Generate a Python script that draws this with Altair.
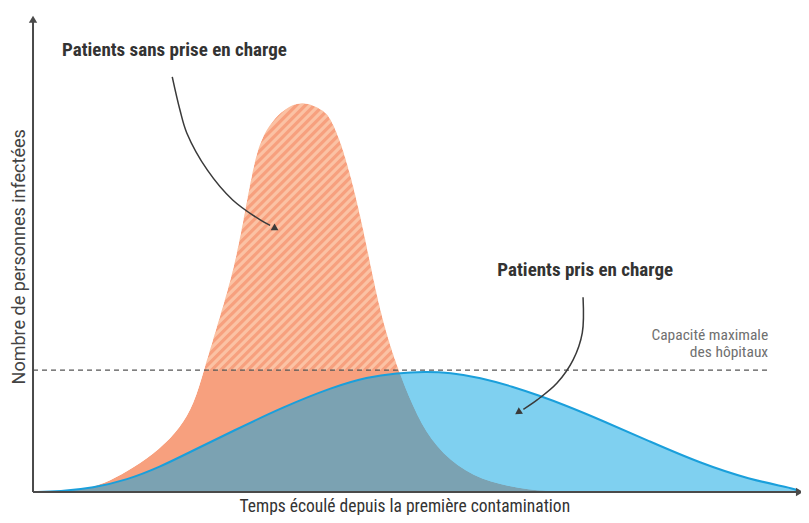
import altair as alt
import numpy as np
import pandas as pd

# ---------------- data (time 0-100, infected 0-100 = unmitigated peak) ----------------
orange_t = [0, 3.53, 7.06, 10.07, 13.07, 16.60, 19.22, 21.05, 22.35, 24.18, 26.14, 27.45,
            28.63, 29.67, 31.37, 32.68, 35.16, 37.91, 38.82, 40.13, 41.44, 43.01, 44.31,
            45.75, 47.58, 49.67, 51.90, 55.42, 59.74, 64.97, 68.89, 100]
orange_v = [0, 0.13, 0.77, 2.81, 6.12, 10.97, 16.33, 22.45, 31.12, 43.11, 55.87, 68.62,
            81.38, 89.80, 94.90, 97.45, 100, 97.45, 95.66, 89.80, 81.38, 68.62, 55.87,
            43.11, 31.89, 21.68, 13.27, 6.38, 2.30, 0.51, 0, 0]

blue_t = [0, 3.53, 7.84, 12.29, 16.60, 20.52, 26.14, 32.68, 39.22, 43.66, 47.58, 51.24,
          54.51, 58.43, 62.75, 66.27, 69.28, 74.12, 80.65, 87.19, 93.73, 98.95, 100]
blue_v = [0, 0.15, 1.02, 3.06, 6.38, 10.20, 15.56, 21.68, 26.79, 29.34, 30.36, 30.74,
          30.48, 29.21, 26.86, 24.52, 22.35, 18.47, 12.86, 7.37, 3.16, 1.12, 0.40]

CAPACITY = 31.1

# annotation arrows (paths in data units)
arrow1_t = [18.2, 19.2, 20.1, 22.8, 26.1, 29.7, 31.0]
arrow1_v = [105.9, 97.5, 91.6, 82.1, 74.5, 69.4, 68.0]
arrow2_t = [71.9, 71.8, 70.6, 68.5, 65.9, 64.1]
arrow2_v = [49.7, 40.6, 33.7, 27.8, 23.5, 21.1]
heads_t = [31.7, 63.4]
heads_v = [67.2, 20.3]
heads_angle = [30, 147]

labels_bold = ["Patients sans prise en charge", "Patients pris en charge"]
labels_bold_t = [3.8, 60.7]
labels_bold_v = [112.8, 56.6]
cap_lines = ["Capacité maximale", "des hôpitaux"]
cap_t = [96.1, 96.1]
cap_v = [40.1, 35.7]
x_title = "Temps écoulé depuis la première contamination"
y_title = "Nombre de personnes infectées"

# ---------------- layout ----------------
W, H = 793, 507
XDOM = [-3.27, 100.39]
YDOM = [-5.87, 123.47]
PX_T = W / (XDOM[1] - XDOM[0])
PX_V = H / (YDOM[1] - YDOM[0])

ORANGE = "#f7a07e"
STRIPE = "#fbc2a4"
BLUE_FILL = "#09a5e2"
BLUE_LINE = "#1a9fdb"
AXIS = "#4a4a4a"
COND = "'Roboto Condensed', 'Liberation Sans Narrow', 'DejaVu Sans Condensed', Roboto, sans-serif"

xs = alt.Scale(domain=XDOM, nice=False, zero=False)
ys = alt.Scale(domain=YDOM, nice=False, zero=False)


def X(f):
    return alt.X(f"{f}:Q", scale=xs, axis=None)


def Y(f):
    return alt.Y(f"{f}:Q", scale=ys, axis=None)


orange = pd.DataFrame({"t": orange_t, "v": orange_v})
orange["base"] = 0.0
orange["top"] = YDOM[1]
blue = pd.DataFrame({"t": blue_t, "v": blue_v})
blue["base"] = 0.0

# hatch stripes (45 deg on screen) clipped to a box above capacity; outside of curve masked
slope = PX_T / PX_V
tL, tR, vB, vT = 22.0, 48.2, CAPACITY, 100.8
step = 9 / PX_T
rows = []
t0 = tL - (vT - vB) / slope
while t0 <= tR:
    ts, vs = t0, vB
    if ts < tL:
        ts, vs = tL, vB + (tL - t0) * slope
    te, ve = t0 + (vT - vB) / slope, vT
    if te > tR:
        te, ve = tR, vB + (tR - t0) * slope
    if vs < ve:
        rows.append({"t": ts, "v": vs, "t2": te, "v2": ve})
    t0 += step
stripes = pd.DataFrame(rows)

orange_area = alt.Chart(orange).mark_area(color=ORANGE, interpolate="basis").encode(
    x=X("t"), y=Y("v"), y2="base:Q")
stripe_layer = alt.Chart(stripes).mark_rule(color=STRIPE, strokeWidth=3.2).encode(
    x=X("t"), y=Y("v"), x2="t2:Q", y2="v2:Q")
mask = alt.Chart(orange).mark_area(color="white", interpolate="basis").encode(
    x=X("t"), y=Y("v"), y2="top:Q")
blue_area = alt.Chart(blue).mark_area(color=BLUE_FILL, opacity=0.52, interpolate="basis").encode(
    x=X("t"), y=Y("v"), y2="base:Q")
blue_line = alt.Chart(blue).mark_line(color=BLUE_LINE, strokeWidth=2, interpolate="basis").encode(
    x=X("t"), y=Y("v"))

cap_df = pd.DataFrame({"t": [0], "t2": [96.1], "v": [CAPACITY]})
cap_rule = alt.Chart(cap_df).mark_rule(color="#555555", strokeWidth=1.4, strokeDash=[5, 4]).encode(
    x=X("t"), x2="t2:Q", y=Y("v"))

axes_df = pd.DataFrame({"t": [0, 0], "v": [0, 0], "t2": [0, 99.8], "v2": [120.0, 0]})
axes = alt.Chart(axes_df).mark_rule(color=AXIS, strokeWidth=2).encode(
    x=X("t"), y=Y("v"), x2="t2:Q", y2="v2:Q")
axis_heads_df = pd.DataFrame({"t": [0, 100.2], "v": [120.6, 0], "ang": [270, 0]})
axis_heads = alt.Chart(axis_heads_df).mark_point(
    shape="triangle-right", filled=True, color=AXIS, size=70, opacity=1).encode(
    x=X("t"), y=Y("v"), angle=alt.Angle("ang:Q", scale=None))

a1 = pd.DataFrame({"t": arrow1_t, "v": arrow1_v, "o": range(len(arrow1_t))})
a2 = pd.DataFrame({"t": arrow2_t, "v": arrow2_v, "o": range(len(arrow2_t))})
arrow1 = alt.Chart(a1).mark_line(color="#3a3a3a", strokeWidth=1.5, interpolate="catmull-rom").encode(
    x=X("t"), y=Y("v"), order="o:Q")
arrow2 = alt.Chart(a2).mark_line(color="#3a3a3a", strokeWidth=1.5, interpolate="catmull-rom").encode(
    x=X("t"), y=Y("v"), order="o:Q")
heads_df = pd.DataFrame({"t": heads_t, "v": heads_v, "ang": heads_angle})
heads = alt.Chart(heads_df).mark_point(
    shape="triangle-right", filled=True, color="#3a3a3a", size=60, opacity=1).encode(
    x=X("t"), y=Y("v"), angle=alt.Angle("ang:Q", scale=None))

bold_df = pd.DataFrame({"t": labels_bold_t, "v": labels_bold_v, "label": labels_bold})
bold_text = alt.Chart(bold_df).mark_text(
    align="left", baseline="middle", font=COND, fontSize=19, fontWeight="bold", color="#333333").encode(
    x=X("t"), y=Y("v"), text="label:N")
cap_df2 = pd.DataFrame({"t": cap_t, "v": cap_v, "label": cap_lines})
cap_text = alt.Chart(cap_df2).mark_text(
    align="right", baseline="middle", font=COND, fontSize=15.5, color="#707070").encode(
    x=X("t"), y=Y("v"), text="label:N")
xt_df = pd.DataFrame({"t": [48.6], "v": [-5.2], "label": [x_title]})
x_text = alt.Chart(xt_df).mark_text(
    align="center", baseline="alphabetic", font=COND, fontSize=17.5, color="#333333").encode(
    x=X("t"), y=Y("v"), text="label:N")
yt_df = pd.DataFrame({"t": [-1.05], "v": [60.0], "label": [y_title]})
y_text = alt.Chart(yt_df).mark_text(
    align="center", baseline="alphabetic", font="Roboto", fontSize=18, angle=270, color="#444444").encode(
    x=X("t"), y=Y("v"), text="label:N")

chart = alt.layer(
    orange_area, stripe_layer, mask, blue_area, blue_line, cap_rule, axes, axis_heads,
    arrow1, arrow2, heads, bold_text, cap_text, x_text, y_text
).properties(
    width=W, height=H, padding=0, autosize=alt.AutoSizeParams(type="none"), background="white"
).configure_view(stroke=None)

chart.save("out.html", embed_options={"renderer": "svg", "actions": False})
